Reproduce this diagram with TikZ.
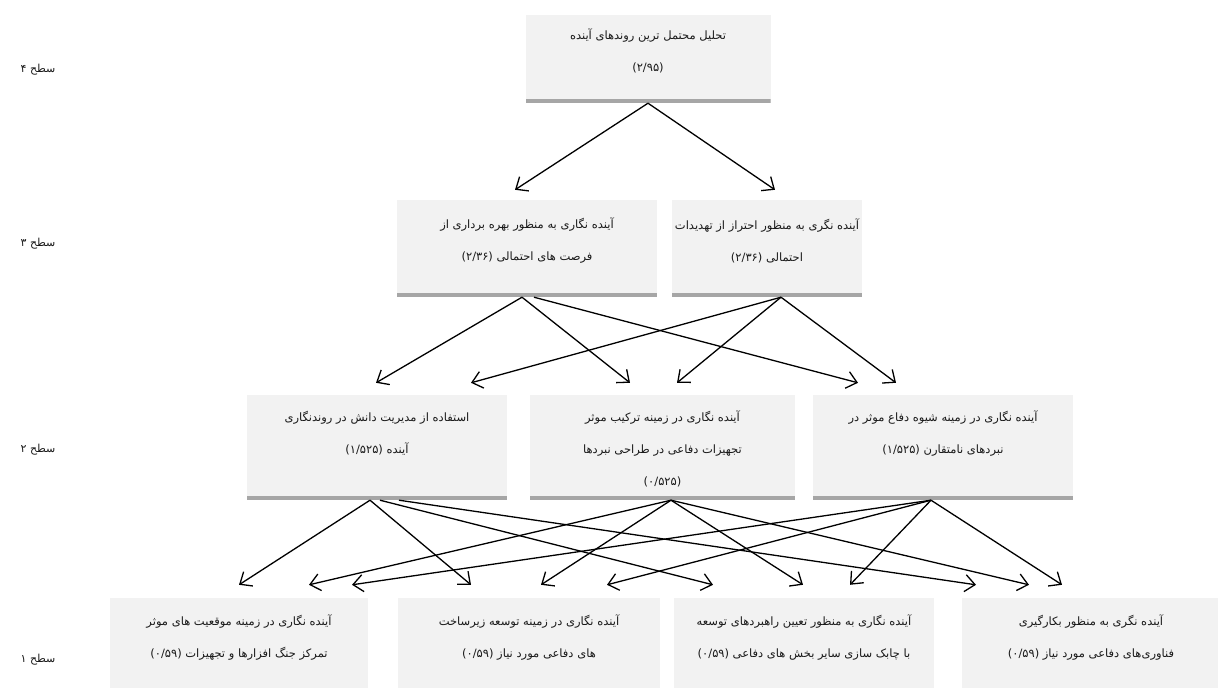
\documentclass[tikz,border=0pt]{standalone}
\usepackage{fontspec}
\newfontfamily\fa[Script=Arabic]{DejaVu Sans}
\TeXXeTstate=1
\usetikzlibrary{arrows.meta}
\definecolor{boxfill}{HTML}{F2F2F2}
\definecolor{barcol}{HTML}{A6A6A6}
\definecolor{txtcol}{HTML}{1A1A1A}
\begin{document}
\begin{tikzpicture}[x=1pt,y=-1pt,
  box/.style={draw=none,fill=boxfill,inner sep=0pt,
    path picture={\fill[barcol] ([yshift=4.5pt]path picture bounding box.south west) rectangle (path picture bounding box.south east);}},
  lowbox/.style={draw=none,fill=boxfill,inner sep=0pt},
  txt/.style={align=center,inner sep=0pt,text=txtcol,font=\fa\fontsize{11.5}{32}\selectfont},
  lvl/.style={inner sep=0pt,text=txtcol,font=\fa\fontsize{11}{13}\selectfont},
  arr/.style={draw=black,line width=1.3pt,-{Straight Barb[length=10pt,width=17pt,line width=1.3pt]}}]
\useasboundingbox (0,0) rectangle (1218,688);
\fill[white] (0,0) rectangle (1218,688);

% level labels
\node[lvl] (s4) at (38,70) {\beginR سطح ۴\endR};
\node[lvl] (s3) at (38,244) {\beginR سطح ۳\endR};
\node[lvl] (s2) at (38,450) {\beginR سطح ۲\endR};
\node[lvl] (s1) at (38,660) {\beginR سطح ۱\endR};

% level 4
\node[box,minimum width=245pt,minimum height=88pt] (t) at (648,59) {};
\node[txt] (tt) at (648,51) {\beginR تحلیل محتمل ترین روندهای آینده\endR\\\beginR (۲/۹۵)\endR};

% level 3
\node[box,minimum width=260pt,minimum height=97pt] (a3) at (527,248.5) {};
\node[txt] (a3t) at (527,241) {\beginR آینده نگاری به منظور بهره برداری از\endR\\\beginR فرصت های احتمالی (۲/۳۶)\endR};
\node[box,minimum width=190pt,minimum height=97pt] (b3) at (767,248.5) {};
\node[txt] (b3t) at (767,241) {\beginR آینده نگری به منظور احتراز از تهدیدات\endR\\\beginR احتمالی (۲/۳۶)\endR};

% level 2
\node[box,minimum width=260pt,minimum height=105pt] (a2) at (377,447.5) {};
\node[txt] (a2t) at (377,433) {\beginR استفاده از مدیریت دانش در روندنگاری\endR\\\beginR آینده (۱/۵۲۵)\endR};
\node[box,minimum width=265pt,minimum height=105pt] (b2) at (662.5,447.5) {};
\node[txt] (b2t) at (662.5,449) {\beginR آینده نگاری در زمینه ترکیب موثر\endR\\\beginR تجهیزات دفاعی در طراحی نبردها\endR\\\beginR (۰/۵۲۵)\endR};
\node[box,minimum width=260pt,minimum height=105pt] (c2) at (943,447.5) {};
\node[txt] (c2t) at (943,433) {\beginR آینده نگاری در زمینه شیوه دفاع موثر در\endR\\\beginR نبردهای نامتقارن (۱/۵۲۵)\endR};

% level 1
\node[lowbox,minimum width=258pt,minimum height=90pt] (a1) at (239,643) {};
\node[txt] (a1t) at (239,637) {\beginR آینده نگاری در زمینه موقعیت های موثر\endR\\\beginR تمرکز جنگ افزارها و تجهیزات (۰/۵۹)\endR};
\node[lowbox,minimum width=262pt,minimum height=90pt] (b1) at (529,643) {};
\node[txt] (b1t) at (529,637) {\beginR آینده نگاری در زمینه توسعه زیرساخت\endR\\\beginR های دفاعی مورد نیاز (۰/۵۹)\endR};
\node[lowbox,minimum width=260pt,minimum height=90pt] (c1) at (804,643) {};
\node[txt] (c1t) at (804,637) {\beginR آینده نگاری به منظور تعیین راهبردهای توسعه\endR\\\beginR با چابک سازی سایر بخش های دفاعی (۰/۵۹)\endR};
\node[lowbox,minimum width=258pt,minimum height=90pt] (d1) at (1091,643) {};
\node[txt] (d1t) at (1091,637) {\beginR آینده نگری به منظور بکارگیری\endR\\\beginR فناوری‌های دفاعی مورد نیاز (۰/۵۹)\endR};

% level 4 -> 3
\draw[arr] (t.south) -- ([xshift=-12pt,yshift=10pt]a3.north);
\draw[arr] (t.south) -- ([xshift=8pt,yshift=10pt]b3.north);

% level 3 -> 2
\draw[arr] ([xshift=-5pt]a3.south) -- ([xshift=-1pt,yshift=12pt]a2.north);
\draw[arr] ([xshift=-5pt]a3.south) -- ([xshift=-32.5pt,yshift=12pt]b2.north);
\draw[arr] ([xshift=7pt]a3.south) -- ([xshift=-85pt,yshift=12pt]c2.north);
\draw[arr] ([xshift=14pt]b3.south) -- ([xshift=94pt,yshift=12pt]a2.north);
\draw[arr] ([xshift=14pt]b3.south) -- ([xshift=14.5pt,yshift=12pt]b2.north);
\draw[arr] ([xshift=14pt]b3.south) -- ([xshift=-47pt,yshift=12pt]c2.north);

% level 2 -> 1
\draw[arr] ([xshift=-7pt]a2.south) -- ([yshift=13pt]a1.north);
\draw[arr] ([xshift=-7pt]a2.south) -- ([xshift=-58pt,yshift=13pt]b1.north);
\draw[arr] ([xshift=3pt]a2.south) -- ([xshift=-91pt,yshift=13pt]c1.north);
\draw[arr] ([xshift=22pt]a2.south) -- ([xshift=-115pt,yshift=13pt]d1.north);
\draw[arr] ([xshift=8.5pt]b2.south) -- ([xshift=70pt,yshift=13pt]a1.north);
\draw[arr] ([xshift=8.5pt]b2.south) -- ([xshift=12pt,yshift=13pt]b1.north);
\draw[arr] ([xshift=8.5pt]b2.south) -- ([xshift=-1pt,yshift=13pt]c1.north);
\draw[arr] ([xshift=8.5pt]b2.south) -- ([xshift=-62pt,yshift=13pt]d1.north);
\draw[arr] ([xshift=-12pt]c2.south) -- ([xshift=113pt,yshift=13pt]a1.north);
\draw[arr] ([xshift=-12pt]c2.south) -- ([xshift=78pt,yshift=13pt]b1.north);
\draw[arr] ([xshift=-12pt]c2.south) -- ([xshift=46pt,yshift=13pt]c1.north);
\draw[arr] ([xshift=-12pt]c2.south) -- ([xshift=-29pt,yshift=13pt]d1.north);
\end{tikzpicture}
\end{document}
